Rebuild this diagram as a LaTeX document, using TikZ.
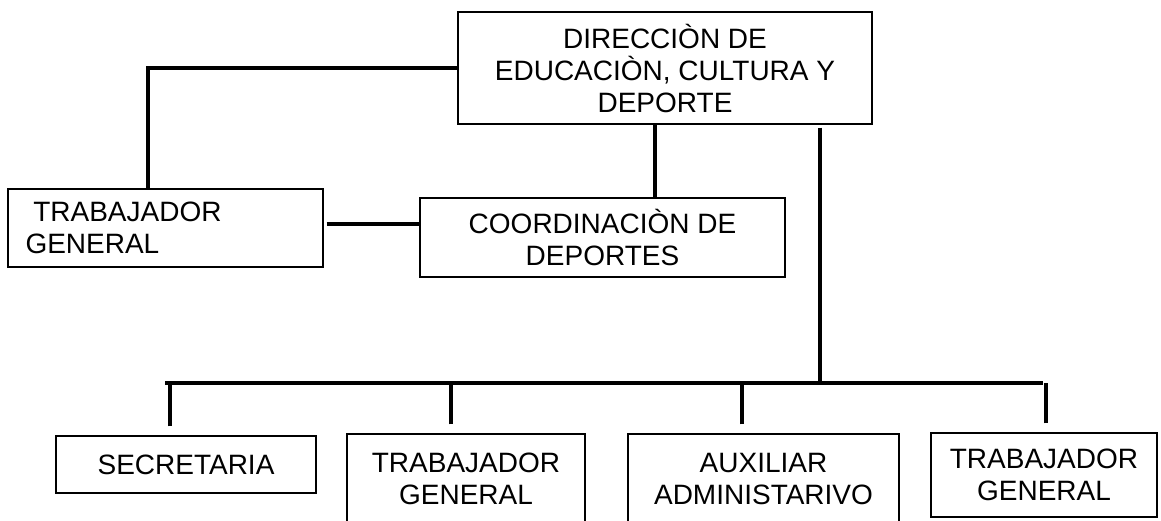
\documentclass[tikz,border=0pt]{standalone}
\usepackage{fontspec}
\setmainfont{Liberation Sans}
\begin{document}
\begin{tikzpicture}[x=1pt,y=-1pt,
  box/.style={draw,line width=1.3pt,inner sep=0pt,align=center,
    font=\fontsize{28}{32}\selectfont},
  link/.style={line width=4pt},
  busline/.style={line width=3.4pt}]
\useasboundingbox (0,0) rectangle (1161,521);

% top: direction
\node[box,minimum width=414,minimum height=112] (dir) at (665,68)
  {DIRECCIÒN DE\\EDUCACIÒN, CULTURA Y\\DEPORTE};

% middle row
\node[box,minimum width=315,minimum height=78,text width=280,align=left] (trab1) at (165.5,228)
  {\hspace*{7.8pt}TRABAJADOR\\GENERAL};
\node[box,minimum width=365,minimum height=79] (coord) at (602.5,237.5)
  {COORDINACIÒN DE\\DEPORTES};

% bottom row (boxes run past the lower edge)
\node[box,minimum width=260,minimum height=57] (secr) at (186,464.5) {SECRETARIA};
\node[box,minimum width=238,minimum height=90] (trab2) at (466,479) {TRABAJADOR\\GENERAL};
\node[box,minimum width=271,minimum height=90] (aux) at (763.5,479) {AUXILIAR\\ADMINISTARIVO};
\node[box,minimum width=226,minimum height=84] (trab4) at (1044,475) {TRABAJADOR\\GENERAL};

% connectors
\coordinate (k1) at (148,189);
\coordinate (bus) at (820,383);
\coordinate (busl) at (165,383);
\coordinate (busr) at (1043,383);

\draw[link] (dir.west) -| (k1);
\draw[link] ([shift={(3,-4)}]trab1.east) -- ([yshift=4pt]trab1.east -| coord.west);
\draw[link] ([xshift=-10pt]dir.south) -- ([xshift=-10pt]dir.south |- coord.north);
\draw[link] ([yshift=-3pt]dir.south -| bus) -- (bus);
\draw[busline] (busl) -- (busr);

% stubs down to the bottom row
\foreach \name/\dx in {secr/-16, trab2/-15, aux/-21.5, trab4/2} {
  \draw[link] ([xshift=\dx,yshift=9pt]\name.north) -- ([xshift=\dx]\name.north |- bus);
}
\end{tikzpicture}
\end{document}
